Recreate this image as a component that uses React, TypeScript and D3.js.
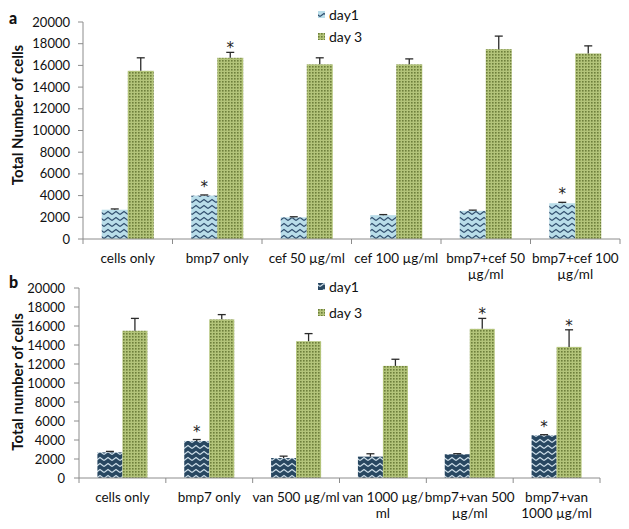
import React from "react";
import * as d3 from "d3";

const labelsA: string[][] = [
  ["cells only"],
  ["bmp7 only"],
  ["cef 50 µg/ml"],
  ["cef 100 µg/ml"],
  ["bmp7+cef 50", "µg/ml"],
  ["bmp7+cef 100", "µg/ml"],
];
const labelsB: string[][] = [
  ["cells only"],
  ["bmp7 only"],
  ["van 500 µg/ml"],
  ["van 1000 µg/", "ml"],
  ["bmp7+van 500", "µg/ml"],
  ["bmp7+van", "1000 µg/ml"],
];

const dayA1 = [2700, 4000, 2000, 2200, 2600, 3300];
const errA1 = [70, 60, 50, 50, 60, 80];
const dayA3 = [15500, 16700, 16100, 16100, 17500, 17100];
const errA3 = [1200, 500, 600, 500, 1200, 700];
const starA1 = [false, true, false, false, false, true];
const starA3 = [false, true, false, false, false, false];

const dayB1 = [2700, 3900, 2100, 2250, 2500, 4500];
const errB1 = [100, 150, 200, 300, 60, 60];
const dayB3 = [15500, 16700, 14400, 11800, 15700, 13800];
const errB3 = [1300, 500, 800, 700, 1100, 1800];
const starB1 = [false, true, false, false, false, true];
const starB3 = [false, false, false, false, true, true];

const yTicks = [0, 2000, 4000, 6000, 8000, 10000, 12000, 14000, 16000, 18000, 20000];

const FONT = "Lato, 'Open Sans', sans-serif";
const STAR_FONT = "'DejaVu Sans', sans-serif";

type PanelProps = {
  letter: string;
  title: string;
  labels: string[][];
  d1: number[];
  e1: number[];
  d3v: number[];
  e3: number[];
  s1: boolean[];
  s3: boolean[];
  x0: number;
  x1: number;
  yBottom: number;
  yTop: number;
  barW: number;
  day1Fill: string;
  labelRight: number;
  titleX: number;
  titleY: number;
  letterPos: [number, number];
  legendX: number;
  legendY: [number, number];
  legendIcon1: string;
};

function Panel(p: PanelProps) {
  const cats = p.labels.map((l) => l.join(" "));
  const x = d3.scaleBand<string>().domain(cats).range([p.x0, p.x1]).padding(0);
  const y = d3.scaleLinear().domain([0, 20000]).range([p.yBottom, p.yTop]);
  const axisColor = "#8c8c8c";
  const errColor = "#2b2b2b";
  const capW = 4;
  return (
    <g>
      <text x={p.letterPos[0]} y={p.letterPos[1]} fontFamily={FONT} fontWeight={900} fontSize={16} fill="#111">
        {p.letter}
      </text>
      <text
        transform={`translate(${p.titleX},${p.titleY}) rotate(-90)`}
        textAnchor="middle"
        fontFamily={FONT}
        fontWeight={700}
        fontSize={15}
        fill="#111"
      >
        {p.title}
      </text>
      <line x1={p.x0} x2={p.x0} y1={y(0)} y2={y(20000)} stroke={axisColor} strokeWidth={1} />
      {yTicks.map((t) => (
        <g key={t}>
          <line x1={p.x0 - 5} x2={p.x0} y1={y(t)} y2={y(t)} stroke={axisColor} />
          <text
            x={p.labelRight}
            y={y(t)}
            dy="0.35em"
            textAnchor="end"
            fontFamily={FONT}
            fontSize={13}
            fill="#111"
          >
            {t}
          </text>
        </g>
      ))}
      {cats.map((c, i) => {
        const cx = (x(c) as number) + x.bandwidth() / 2;
        const b1x = cx - p.barW;
        const b3x = cx;
        const t1 = y(p.d1[i]);
        const t3 = y(p.d3v[i]);
        const et1 = y(p.d1[i] + p.e1[i]);
        const et3 = y(p.d3v[i] + p.e3[i]);
        return (
          <g key={c}>
            <rect x={b1x} y={t1} width={p.barW} height={y(0) - t1} fill={p.day1Fill} />
            <rect x={b3x} y={t3} width={p.barW} height={y(0) - t3} fill="url(#dots)" />
            <line x1={b1x + p.barW / 2} x2={b1x + p.barW / 2} y1={t1} y2={et1} stroke={errColor} strokeWidth={1.3} />
            <line x1={b1x + p.barW / 2 - capW} x2={b1x + p.barW / 2 + capW} y1={et1} y2={et1} stroke={errColor} strokeWidth={1.3} />
            <line x1={b3x + p.barW / 2} x2={b3x + p.barW / 2} y1={t3} y2={et3} stroke={errColor} strokeWidth={1.3} />
            <line x1={b3x + p.barW / 2 - capW} x2={b3x + p.barW / 2 + capW} y1={et3} y2={et3} stroke={errColor} strokeWidth={1.3} />
            {p.s1[i] && (
              <text x={b1x + p.barW / 2} y={et1 - 3} textAnchor="middle" fontFamily={STAR_FONT} fontSize={15} fill="#222">
                *
              </text>
            )}
            {p.s3[i] && (
              <text x={b3x + p.barW / 2} y={et3 + 1} textAnchor="middle" fontFamily={STAR_FONT} fontSize={15} fill="#222">
                *
              </text>
            )}
          </g>
        );
      })}
      <line x1={p.x0} x2={p.x1} y1={y(0)} y2={y(0)} stroke={axisColor} strokeWidth={1} />
      {d3.range(cats.length + 1).map((k) => {
        const xx = p.x0 + k * x.bandwidth();
        return <line key={k} x1={xx} x2={xx} y1={y(0)} y2={y(0) + 5} stroke={axisColor} />;
      })}
      {cats.map((c, i) => {
        const cx = (x(c) as number) + x.bandwidth() / 2;
        return (
          <text key={c} textAnchor="middle" fontFamily={FONT} fontSize={13.5} fill="#111">
            {p.labels[i].map((ln, j) => (
              <tspan key={j} x={cx} y={y(0) + 24 + j * 16}>
                {ln}
              </tspan>
            ))}
          </text>
        );
      })}
      <rect x={p.legendX} y={p.legendY[0] - 4} width={7} height={7} fill={p.legendIcon1} />
      <text x={p.legendX + 11} y={p.legendY[0]} dy="0.35em" fontFamily={FONT} fontSize={14} fill="#111">
        day1
      </text>
      <rect x={p.legendX} y={p.legendY[1] - 4} width={7} height={7} fill="url(#dots)" />
      <text x={p.legendX + 11} y={p.legendY[1]} dy="0.35em" fontFamily={FONT} fontSize={14} fill="#111">
        day 3
      </text>
    </g>
  );
}

export default function App() {
  return (
    <svg
      width={629}
      height={529}
      style={{ position: "absolute", left: 0, top: 0, background: "#fff" }}
    >
      <defs>
        <pattern id="waveA" width={8} height={6} patternUnits="userSpaceOnUse">
          <rect width={8} height={6} fill="#b9dde9" />
          <path d="M0,4.5 L4,1.5 L8,4.5" fill="none" stroke="#2e4c6c" strokeWidth={1.1} />
        </pattern>
        <pattern id="waveB" width={8} height={6} patternUnits="userSpaceOnUse">
          <rect width={8} height={6} fill="#284761" />
          <path d="M0,4.5 L4,1.5 L8,4.5" fill="none" stroke="#cfdfea" strokeWidth={1.1} />
        </pattern>
        <pattern id="dots" width={3} height={3} patternUnits="userSpaceOnUse">
          <rect width={3} height={3} fill="#b3c47a" />
          <rect x={0} y={0} width={1.6} height={1.6} fill="#6d7f3a" />
        </pattern>
      </defs>
      <Panel
        letter="a"
        title="Total Number of cells"
        labels={labelsA}
        d1={dayA1}
        e1={errA1}
        d3v={dayA3}
        e3={errA3}
        s1={starA1}
        s3={starA3}
        x0={83}
        x1={620}
        yBottom={239}
        yTop={22}
        barW={26}
        day1Fill="url(#waveA)"
        labelRight={70}
        titleX={23}
        titleY={115}
        letterPos={[9, 24]}
        legendX={318}
        legendY={[15, 37]}
        legendIcon1="url(#waveA)"
      />
      <Panel
        letter="b"
        title="Total number of cells"
        labels={labelsB}
        d1={dayB1}
        e1={errB1}
        d3v={dayB3}
        e3={errB3}
        s1={starB1}
        s3={starB3}
        x0={79}
        x1={600}
        yBottom={478}
        yTop={288}
        barW={25}
        day1Fill="url(#waveB)"
        labelRight={65}
        titleX={23}
        titleY={382}
        letterPos={[9, 288]}
        legendX={318}
        legendY={[287, 313]}
        legendIcon1="url(#waveB)"
      />
    </svg>
  );
}
